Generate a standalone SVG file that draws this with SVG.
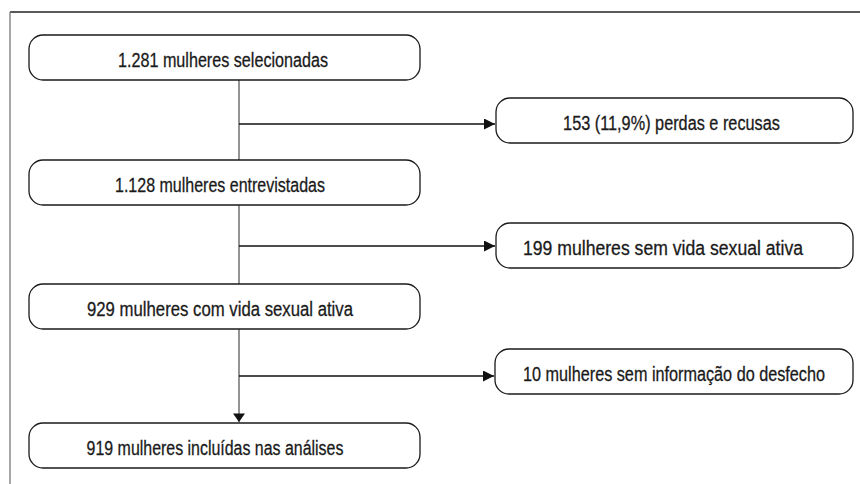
<svg xmlns="http://www.w3.org/2000/svg" width="860" height="484" viewBox="0 0 860 484">
<defs>
<style>
.box{fill:#fff;stroke:#1a1a1a;stroke-width:1.3}
.t{font-family:"Liberation Sans","Liberation Sans Narrow",Arial,sans-serif;font-size:21px;fill:#1a1a1a;stroke:#1a1a1a;stroke-width:0.3;text-anchor:middle}
.v{stroke:#666;stroke-width:1.4;fill:none}
.h{stroke:#111;stroke-width:1.3;fill:none}
</style>
<marker id="ah" viewBox="0 0 10 10" refX="10" refY="5" markerWidth="14" markerHeight="11" markerUnits="userSpaceOnUse" orient="auto">
<path d="M0,0 L10,5 L0,10 z" fill="#111"/>
</marker>
<marker id="ahd" viewBox="0 0 10 14" refX="10" refY="7" markerWidth="16" markerHeight="12" markerUnits="userSpaceOnUse" orient="auto">
<path d="M0,0 L10,7 L0,14 z" fill="#111"/>
</marker>
</defs>
<g id="frame">
<line x1="10" y1="12" x2="860" y2="12" stroke="#222" stroke-width="1.3"/>
<line x1="10" y1="12" x2="10" y2="484" stroke="#777" stroke-width="1.3"/>
</g>
<g id="connectors">
<line class="v" x1="239" y1="80" x2="239" y2="160"/>
<line class="v" x1="239" y1="205" x2="239" y2="284"/>
<line class="v" x1="239" y1="329" x2="239" y2="422" marker-end="url(#ahd)"/>
<line class="h" x1="239" y1="124" x2="495" y2="124" marker-end="url(#ah)"/>
<line class="h" x1="239" y1="246" x2="495" y2="246" marker-end="url(#ah)"/>
<line class="h" x1="239" y1="376" x2="494" y2="376" marker-end="url(#ah)"/>
</g>
<g id="n1"><rect class="box" x="29" y="35" width="391" height="45" rx="14"/><g transform="translate(223 67) scale(0.8 1)"><text class="t" x="0" y="0" textLength="262.5" lengthAdjust="spacingAndGlyphs">1.281 mulheres selecionadas</text></g></g>
<g id="n2"><rect class="box" x="496" y="98" width="357" height="45" rx="14"/><g transform="translate(671.5 130) scale(0.8 1)"><text class="t" x="0" y="0" textLength="271" lengthAdjust="spacingAndGlyphs">153 (11,9%) perdas e recusas</text></g></g>
<g id="n3"><rect class="box" x="29" y="160" width="391" height="45" rx="14"/><g transform="translate(220 192) scale(0.8 1)"><text class="t" x="0" y="0" textLength="262.5" lengthAdjust="spacingAndGlyphs">1.128 mulheres entrevistadas</text></g></g>
<g id="n4"><rect class="box" x="496" y="223" width="357" height="45" rx="14"/><g transform="translate(663 255) scale(0.8 1)"><text class="t" x="0" y="0" textLength="350" lengthAdjust="spacingAndGlyphs">199 mulheres sem vida sexual ativa</text></g></g>
<g id="n5"><rect class="box" x="29" y="284" width="391" height="45" rx="14"/><g transform="translate(220 316) scale(0.8 1)"><text class="t" x="0" y="0" textLength="332.5" lengthAdjust="spacingAndGlyphs">929 mulheres com vida sexual ativa</text></g></g>
<g id="n6"><rect class="box" x="495" y="349" width="358" height="45" rx="14"/><g transform="translate(674 381) scale(0.8 1)"><text class="t" x="0" y="0" textLength="377.5" lengthAdjust="spacingAndGlyphs">10 mulheres sem informação do desfecho</text></g></g>
<g id="n7"><rect class="box" x="29" y="423" width="391" height="45" rx="14"/><g transform="translate(215 455) scale(0.8 1)"><text class="t" x="0" y="0" textLength="321" lengthAdjust="spacingAndGlyphs">919 mulheres incluídas nas análises</text></g></g>
</svg>
